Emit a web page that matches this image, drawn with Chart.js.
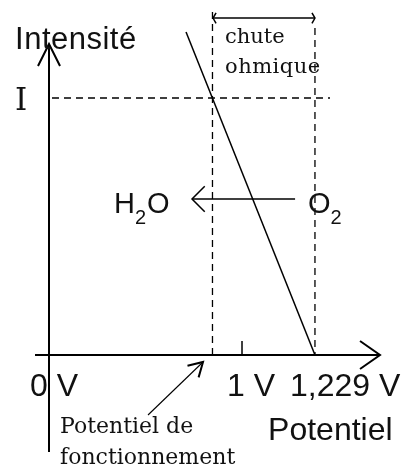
<!DOCTYPE html>
<html>
<head>
<meta charset="utf-8">
<script src="https://cdn.jsdelivr.net/npm/chart.js@4/dist/chart.umd.min.js"></script>
<style>
html,body{margin:0;padding:0;background:#fff;}
#wrap{width:401px;height:472px;}
</style>
</head>
<body>
<div id="wrap"><canvas id="c" width="401" height="472"></canvas></div>
<script>
// ---- data (schematic units: x in drawing volts, y in units of I) ----
const tickPositions = [0, 1, 1.378];           // 0 V, 1 V, 1,229 V (schematic)
const tickLabels = ['0 V', '1 V', '1,229 V'];
const operatingPotential = 0.847;              // "Potentiel de fonctionnement"
const reversiblePotential = 1.378;             // 1,229 V on the drawing
const currentI = 1;                             // "I"
const polarizationX = [0.71, 1.378];
const polarizationY = [1.257, 0];
const xAxisExtent = [-0.0725, 1.715];
const yAxisExtent = [-0.377, 1.21];
const ohmicArrowY = 1.311;
const reactionArrowY = 0.607;
const reactionArrowX = [1.275, 0.741];
const pointerX = [0.513, 0.798];
const pointerY = [-0.2335, -0.0272];
const iLineEndX = 1.456;
const leftDashTop = 1.335;
const rightDashTop = 1.272;

const SANS = '"Liberation Sans", Arial, sans-serif';
const SERIF = '"DejaVu Serif", "Liberation Serif", serif';

function seg(x0, y0, x1, y1) { return [{x: x0, y: y0}, {x: x1, y: y1}]; }
function line(data, extra) {
  return Object.assign({data, showLine: true, pointRadius: 0, borderColor: '#000',
    borderWidth: 1.5, fill: false, clip: false, tension: 0}, extra || {});
}

const datasets = [
  // axes
  line(seg(0, yAxisExtent[0], 0, yAxisExtent[1]), {borderWidth: 2, arrowEnd: {len: 24.6, ang: 26.6}}),
  line(seg(xAxisExtent[0], 0, xAxisExtent[1], 0), {borderWidth: 2, arrowEnd: {len: 24.4, ang: 35}}),
  // 1 V tick
  line(seg(tickPositions[1], 0, tickPositions[1], 0.0545), {borderWidth: 1.5}),
  // dashed guides
  line(seg(0.0155, currentI, iLineEndX, currentI), {borderWidth: 1.3, borderDash: [7, 5]}),
  line(seg(operatingPotential, leftDashTop, operatingPotential, 0), {borderWidth: 1.3, borderDash: [7, 5]}),
  line(seg(reversiblePotential, rightDashTop, reversiblePotential, 0), {borderWidth: 1.3, borderDash: [7, 5]}),
  // polarization line
  line(polarizationX.map((x, i) => ({x, y: polarizationY[i]})), {borderWidth: 1.5}),
  // ohmic drop arrow
  line(seg(operatingPotential + 0.003, ohmicArrowY, reversiblePotential, ohmicArrowY),
       {borderWidth: 1.5, arrowEnd: {len: 6, ang: 60}, arrowStart: {len: 6, ang: 60}}),
  // O2 -> H2O arrow
  line(seg(reactionArrowX[0], reactionArrowY, reactionArrowX[1], reactionArrowY),
       {borderWidth: 1.5, arrowEnd: {len: 18, ang: 45}}),
  // pointer
  line(pointerX.map((x, i) => ({x, y: pointerY[i]})), {borderWidth: 1.1, arrowEnd: {len: 16, ang: 30}, headWidth: 2})
];

// text annotations: [text, x, y (data units, left/baseline), font, letterSpacing]
const labels = [
  ['Intensité', -0.176, 1.19, '31px ' + SANS, '0.5px'],
  ['I', -0.176, 0.953, '31px ' + SERIF, '0px'],
  ['chute', 0.912, 1.214, '21px ' + SERIF, '0px'],
  ['ohmique', 0.912, 1.097, '21px ' + SERIF, '0.5px'],
  [tickLabels[0], -0.0985, -0.1595, '32px ' + SANS, '0px'],
  [tickLabels[1], 0.922, -0.1595, '32px ' + SANS, '0px'],
  [tickLabels[2], 1.249, -0.1595, '32px ' + SANS, '0px'],
  ['Potentiel', 1.135, -0.331, '32px ' + SANS, '0px'],
  ['Potentiel de', 0.057, -0.304, '22px ' + SERIF, '0px'],
  ['fonctionnement', 0.057, -0.424, '22px ' + SERIF, '0px']
];
// chemical species with subscripts: [main, sub, after, x, y]
const species = [
  ['H', '2', 'O', 0.337, 0.5525],
  ['O', '2', '', 1.342, 0.5525]
];

const decor = {
  id: 'decor',
  afterDatasetsDraw(chart) {
    const ctx = chart.ctx;
    const xs = chart.scales.x, ys = chart.scales.y;
    ctx.save();
    // arrowheads
    chart.data.datasets.forEach((ds, i) => {
      const pts = chart.getDatasetMeta(i).data;
      const head = (tip, from, spec) => {
        const a = Math.atan2(from.y - tip.y, from.x - tip.x);
        const r = spec.ang * Math.PI / 180;
        ctx.beginPath();
        ctx.moveTo(tip.x + spec.len * Math.cos(a + r), tip.y + spec.len * Math.sin(a + r));
        ctx.lineTo(tip.x, tip.y);
        ctx.lineTo(tip.x + spec.len * Math.cos(a - r), tip.y + spec.len * Math.sin(a - r));
        ctx.strokeStyle = '#000';
        ctx.lineWidth = ds.headWidth || ds.borderWidth;
        ctx.setLineDash([]);
        ctx.stroke();
      };
      if (ds.arrowEnd) head(pts[pts.length - 1], pts[pts.length - 2], ds.arrowEnd);
      if (ds.arrowStart) head(pts[0], pts[1], ds.arrowStart);
    });
    // text
    ctx.fillStyle = '#111';
    ctx.textBaseline = 'alphabetic';
    ctx.textAlign = 'left';
    labels.forEach(([t, x, y, f, ls]) => {
      ctx.font = f;
      ctx.letterSpacing = ls;
      ctx.fillText(t, xs.getPixelForValue(x), ys.getPixelForValue(y));
    });
    ctx.letterSpacing = '0px';
    species.forEach(([m, s, a, x, y]) => {
      let px = xs.getPixelForValue(x);
      const py = ys.getPixelForValue(y);
      ctx.font = '29px ' + SANS;
      ctx.fillText(m, px, py);
      px += ctx.measureText(m).width;
      ctx.font = '20px ' + SANS;
      ctx.fillText(s, px, py + 11);
      px += ctx.measureText(s).width + 1;
      if (a) { ctx.font = '29px ' + SANS; ctx.fillText(a, px, py); }
    });
    ctx.restore();
  }
};

new Chart(document.getElementById('c'), {
  type: 'scatter',
  data: {datasets},
  options: {
    responsive: false,
    animation: false,
    devicePixelRatio: 1,
    layout: {padding: 0},
    plugins: {legend: {display: false}, tooltip: {enabled: false}},
    scales: {
      x: {type: 'linear', min: -0.2539, max: 1.8238, display: false},
      y: {type: 'linear', min: -0.4553, max: 1.3813, display: false}
    }
  },
  plugins: [decor]
});
</script>
</body>
</html>
